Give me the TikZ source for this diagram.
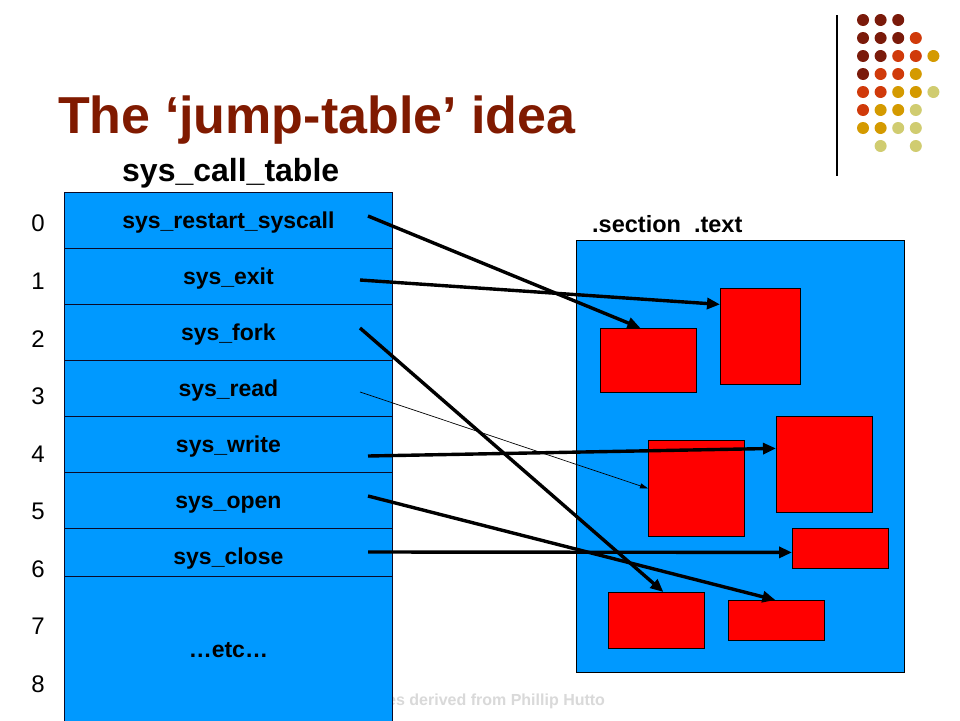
\documentclass[tikz,border=0pt]{standalone}
\usepackage{fontspec}
\setmainfont{Liberation Sans}
\usetikzlibrary{arrows.meta,calc}
\definecolor{slideblue}{RGB}{0,153,255}
\definecolor{titlered}{RGB}{128,26,0}
\definecolor{dotA}{RGB}{122,26,10}
\definecolor{dotB}{RGB}{208,58,10}
\definecolor{dotC}{RGB}{212,154,0}
\definecolor{dotD}{RGB}{208,204,112}
\definecolor{footgray}{RGB}{217,217,217}
\definecolor{edgecol}{RGB}{10,10,40}
\begin{document}
\begin{tikzpicture}[x=1pt,y=-1pt,
  rowbox/.style={draw=edgecol, line width=0.8pt, fill=slideblue, minimum width=328pt,
    inner sep=0pt, anchor=north west},
  rowtext/.style={anchor=base, inner sep=0pt, font=\fontsize{23}{23}\selectfont\bfseries},
  redbox/.style={draw=black, line width=0.8pt, fill=red, inner sep=0pt, anchor=north west},
  idx/.style={font=\fontsize{24}{24}\selectfont, inner sep=0pt},
  thickarrow/.style={line width=3.4pt, -{Triangle[length=13pt,width=11pt]}},
  thinarrow/.style={line width=0.7pt, -{Triangle[length=8pt,width=5pt]}},
  dot/.style={radius=6pt}
]
\useasboundingbox (0,0) rectangle (960,720);
\fill[white] (0,0) rectangle (960,720);

% decoration top right
\draw[line width=1.2pt] (837,15) -- (837,176);
\foreach \c/\r/\col in {0/0/dotA,1/0/dotA,2/0/dotA,
  0/1/dotA,1/1/dotA,2/1/dotA,3/1/dotB,
  0/2/dotA,1/2/dotA,2/2/dotB,3/2/dotB,4/2/dotC,
  0/3/dotA,1/3/dotB,2/3/dotB,3/3/dotC,
  0/4/dotB,1/4/dotB,2/4/dotC,3/4/dotC,4/4/dotD,
  0/5/dotB,1/5/dotC,2/5/dotC,3/5/dotD,
  0/6/dotC,1/6/dotC,2/6/dotD,3/6/dotD,
  1/7/dotD,3/7/dotD}
  \fill[\col] (863+17.6*\c, 20+18*\r) circle[dot];

% title
\node[anchor=base west, inner sep=0pt, text=titlered, font=\fontsize{52}{52}\selectfont\bfseries]
  (title) at (58,133) {The ‘jump-table’ idea};
\node[anchor=base west, inner sep=0pt, font=\fontsize{32}{32}\selectfont\bfseries]
  (tablelabel) at (122,181) {sys\_call\_table};

% footer (partly hidden by the table)
\node[anchor=base west, inner sep=0pt, text=footgray, font=\fontsize{16}{16}\selectfont\bfseries]
  (footer) at (387,705) {es derived from Phillip Hutto};

% table rows
\node[rowbox, minimum height=56pt] (r0) at (64,192) {};
\node[rowbox, minimum height=56pt] (r1) at (64,248) {};
\node[rowbox, minimum height=56pt] (r2) at (64,304) {};
\node[rowbox, minimum height=56pt] (r3) at (64,360) {};
\node[rowbox, minimum height=56pt] (r4) at (64,416) {};
\node[rowbox, minimum height=56pt] (r5) at (64,472) {};
\node[rowbox, minimum height=48pt] (r6) at (64,528) {};
\node[rowbox, minimum height=150pt] (r7) at (64,576) {};
\node[rowtext] (t0) at ([yshift=-36.5pt]r0.north) {sys\_restart\_syscall};
\node[rowtext] (t1) at ([yshift=-36.5pt]r1.north) {sys\_exit};
\node[rowtext] (t2) at ([yshift=-36.5pt]r2.north) {sys\_fork};
\node[rowtext] (t3) at ([yshift=-36.5pt]r3.north) {sys\_read};
\node[rowtext] (t4) at ([yshift=-36.5pt]r4.north) {sys\_write};
\node[rowtext] (t5) at ([yshift=-36.5pt]r5.north) {sys\_open};
\node[rowtext] (t6) at ([yshift=-36pt]r6.north) {sys\_close};
\node[rowtext] (t7) at ([yshift=-81pt]r7.north) {…etc…};

% indices
\foreach \i in {0,...,8}
  \node[idx] (i\i) at (38,223.5+57.6*\i) {\i};

% text section
\node[anchor=base west, inner sep=0pt, font=\fontsize{23.5}{23.5}\selectfont\bfseries]
  (seclabel) at (592,232) {.section\ \ .text};
\node[draw=black, line width=0.8pt, fill=slideblue, inner sep=0pt, anchor=north west,
  minimum width=328pt, minimum height=432pt] (sec) at (576,240) {};

% functions
\node[redbox, minimum width=96pt, minimum height=64pt] (b1) at (600,328) {};
\node[redbox, minimum width=80pt, minimum height=96pt] (b2) at (720,288) {};
\node[redbox, minimum width=96pt, minimum height=96pt] (b3) at (776,416) {};
\node[redbox, minimum width=96pt, minimum height=96pt] (b4) at (648,440) {};
\node[redbox, minimum width=96pt, minimum height=40pt] (b5) at (792,528) {};
\node[redbox, minimum width=96pt, minimum height=56pt] (b6) at (608,592) {};
\node[redbox, minimum width=96pt, minimum height=40pt] (b7) at (728,600) {};

% arrow start points
\coordinate (s0) at (368,216);
\coordinate (s1) at (360,280);
\coordinate (s2) at (360,328);
\coordinate (s3) at (360,392);
\coordinate (s4) at (368,456);
\coordinate (s5) at (368,496);
\coordinate (s6) at (368,552);

\draw[thickarrow] (s0) -- ([xshift=-8pt]b1.north);
\draw[thickarrow] (s1) -- ([yshift=32pt]b2.west);
\draw[thickarrow] (s2) -- ([xshift=7pt]b6.north);
\draw[thinarrow] (s3) -- (b4.west);
\draw[thickarrow] (s4) -- ([yshift=16pt]b3.west);
\draw[thickarrow] (s5) -- ([xshift=-1pt]b7.north);
\draw[thickarrow] (s6) -- ([yshift=-4pt]b5.west);
\end{tikzpicture}
\end{document}
